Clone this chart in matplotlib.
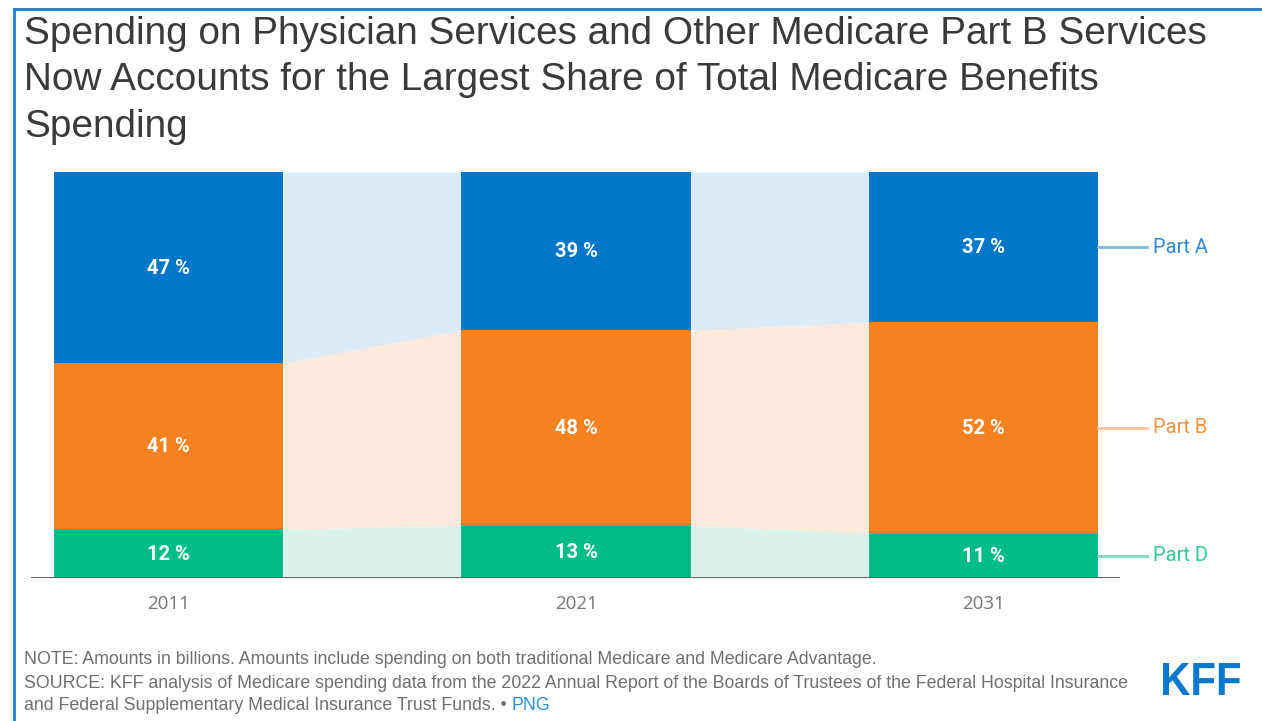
import matplotlib
matplotlib.use("Agg")
import matplotlib.pyplot as plt
from matplotlib.lines import Line2D
from matplotlib.textpath import TextPath
from matplotlib.patches import PathPatch
from matplotlib.font_manager import FontProperties
from matplotlib.transforms import Affine2D, IdentityTransform
import numpy as np

years = ["2011", "2021", "2031"]
part_a = [47, 39, 37]
part_b = [41, 48, 52]
part_d = [12, 13, 11]
series_names = ["Part A", "Part B", "Part D"]

title = ("Spending on Physician Services and Other Medicare Part B Services\n"
         "Now Accounts for the Largest Share of Total Medicare Benefits\n"
         "Spending")
note = "NOTE: Amounts in billions. Amounts include spending on both traditional Medicare and Medicare Advantage."
source1 = "SOURCE: KFF analysis of Medicare spending data from the 2022 Annual Report of the Boards of Trustees of the Federal Hospital Insurance"
source2 = "and Federal Supplementary Medical Insurance Trust Funds. \u2022 "

colors = {"Part A": "#0077c8", "Part B": "#f58220", "Part D": "#00bc87"}
light = {"Part A": "#daeaf6", "Part B": "#fdeadc", "Part D": "#daf4ec"}
legend_line = {"Part A": "#7db9e6", "Part B": "#f9c29a", "Part D": "#7ddcbc"}
legend_text = {"Part A": "#2f8ad6", "Part B": "#f6923f", "Part D": "#2fcb96"}

W, H = 1262, 721
fig = plt.figure(figsize=(W / 100, H / 100), dpi=100)

# axes in pixel coords
ax_l, ax_r, ax_t, ax_b = 31, 1120, 172, 578
ax = fig.add_axes([ax_l / W, 1 - ax_b / H, (ax_r - ax_l) / W, (ax_b - ax_t) / H])

x = np.arange(len(years))
width = 229 / 407
ax.set_xlim(-(168.5 - 31) / 407, 2 + (1120 - 983.5) / 407)
ax.set_ylim(0, 100)

stack = {"Part D": part_d, "Part B": part_b, "Part A": part_a}
bottoms = np.zeros(len(years))
seg = {}
for name in ["Part D", "Part B", "Part A"]:
    vals = np.array(stack[name], dtype=float)
    seg[name] = (bottoms.copy(), bottoms + vals)
    ax.bar(x, vals, width=width, bottom=bottoms, color=colors[name], zorder=3)
    for xi, v, b in zip(x, vals, bottoms):
        ax.text(xi, b + v / 2 - 0.2, f"{int(v)} %", ha="center", va="center",
                color="white", fontsize=14.5, fontweight="bold",
                family=["Roboto", "DejaVu Sans"], zorder=4)
    bottoms = bottoms + vals

# connectors between bars
for name in ["Part D", "Part B", "Part A"]:
    lo, hi = seg[name]
    for i in range(len(years) - 1):
        xs = [x[i] + width / 2, x[i + 1] - width / 2]
        ax.fill_between(xs, [lo[i], lo[i + 1]], [hi[i], hi[i + 1]],
                        color=light[name], linewidth=0, zorder=2)

# baseline
ax.axhline(0, color="#555555", linewidth=2, zorder=5)

# legend labels on right
for name in ["Part A", "Part B", "Part D"]:
    lo, hi = seg[name]
    ymid = (lo[-1] + hi[-1]) / 2
    x0 = x[-1] + width / 2
    ax.plot([x0, x0 + 49 / 407], [ymid, ymid], color=legend_line[name],
            linewidth=2, clip_on=False, zorder=3)
    ax.text(x0 + 55 / 407, ymid, name, ha="left", va="center",
            color=legend_text[name], fontsize=14.5,
            family=["Roboto", "DejaVu Sans"], clip_on=False)

ax.set_xticks(x)
ax.set_xticklabels(years)
ax.tick_params(axis="x", length=0, pad=12, labelsize=13.5, labelcolor="#777777")
for lbl in ax.get_xticklabels():
    lbl.set_family(["Open Sans", "DejaVu Sans"])
ax.set_yticks([])
for s in ax.spines.values():
    s.set_visible(False)

# title
fig.text(24 / W, 1 - 16 / H, title, ha="left", va="top", fontsize=27.9,
         color="#3a3a3a", family=["Liberation Sans", "DejaVu Sans"],
         linespacing=1.37)

# footer
fs = 12.8
foot_kw = dict(ha="left", va="center", fontsize=fs, color="#6f6f6f",
               family=["Liberation Sans", "DejaVu Sans"])
fig.text(24 / W, 1 - 660 / H, note, **foot_kw)
fig.text(24 / W, 1 - 684 / H, source1, **foot_kw)
t = fig.text(24 / W, 1 - 706 / H, source2, **foot_kw)
fig.canvas.draw()
bb = t.get_window_extent()
fig.text(bb.x1 / W, 1 - 706 / H, "PNG", ha="left", va="center", fontsize=fs,
         color="#2a8fd8", family=["Liberation Sans", "DejaVu Sans"])

# KFF logo, condensed to fit its box
tp = TextPath((0, 0), "KFF", size=40,
              prop=FontProperties(family=["Liberation Sans", "DejaVu Sans"], weight="bold"))
ext = tp.get_extents()
bx0, bx1 = 1163, 1240
by0, by1 = H - 695, H - 663
sx = (bx1 - bx0) / ext.width
sy = (by1 - by0) / ext.height
trans = Affine2D().translate(-ext.x0, -ext.y0).scale(sx, sy).translate(bx0, by0)
logo = PathPatch(trans.transform_path(tp), facecolor="#0a78cc", edgecolor="none",
                 transform=IdentityTransform())
fig.add_artist(logo)

# border lines
fig.add_artist(Line2D([14 / W, 1], [1 - 9 / H, 1 - 9 / H], color="#1a7fd4", linewidth=2))
fig.add_artist(Line2D([14 / W, 14 / W], [0, 1 - 9 / H], color="#1a7fd4", linewidth=2))

fig.savefig("out.png", dpi=100)
